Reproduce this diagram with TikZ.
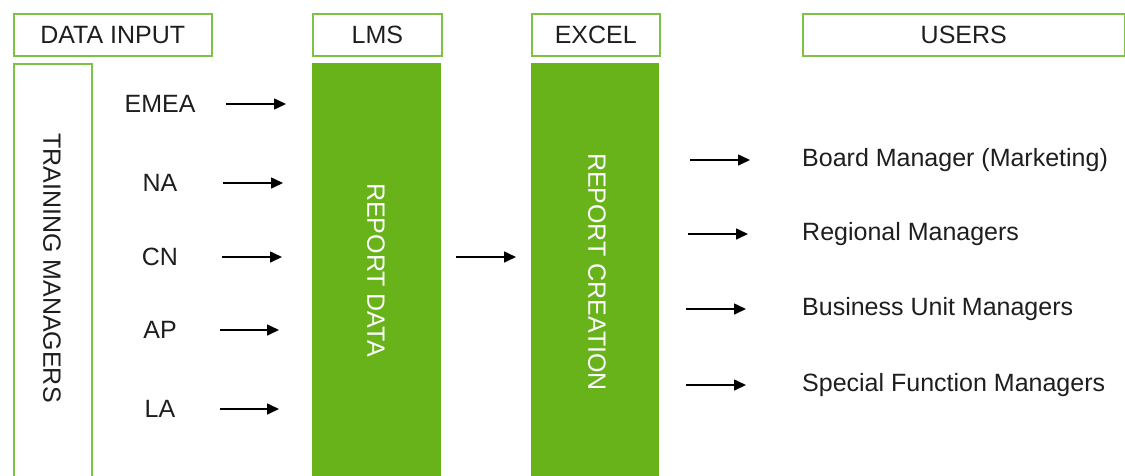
\documentclass[tikz,border=0pt]{standalone}
\usepackage{fontspec}
\setmainfont{Liberation Sans}
\usetikzlibrary{arrows.meta}
\definecolor{leaf}{HTML}{68B21A}
\definecolor{rim}{HTML}{7DC145}
\definecolor{ink}{HTML}{1E1E1E}
\begin{document}
\begin{tikzpicture}[x=1pt,y=-1pt,
  every node/.style={font=\fontsize{25}{28}\selectfont, text=ink, inner sep=0pt},
  headbox/.style={draw=rim, line width=1.6pt, anchor=north west, minimum height=42pt},
  sidebox/.style={draw=rim, line width=1.6pt, anchor=north west},
  stage/.style={fill=leaf, anchor=north west},
  vlabel/.style={rotate=-90, text=#1},
  flow/.style={line width=1.6pt, draw=black, -{Triangle[length=12pt,width=11pt]}}]
\useasboundingbox (0,0) rectangle (1125,475);

% column headers
\node[headbox, minimum width=198pt] (hin)   at (13,13)  {DATA INPUT};
\node[headbox, minimum width=129pt] (hlms)  at (312,13) {LMS};
\node[headbox, minimum width=128pt] (hxl)   at (531,13) {EXCEL};
\node[headbox, minimum width=322pt] (husr)  at (802,13) {USERS};

% side panel and the two process stages
\node[sidebox, minimum width=78pt, minimum height=420pt] (train) at (13,63) {};
\node[stage, minimum width=129pt, minimum height=420pt] (lms) at (312,63) {};
\node[stage, minimum width=128pt, minimum height=420pt] (xl) at (531,63) {};

\node[vlabel=ink]   (tm) at (52,268)  {TRAINING MANAGERS};
\node[vlabel=white] (rd) at (376,270) {REPORT DATA};
\node[vlabel=white] (rc) at (597,272) {REPORT CREATION};

% regions feeding the LMS
\foreach \name/\txt/\y/\xa/\xb in {emea/EMEA/104/226/286, na/NA/183/223/283,
    cn/CN/257/222/282, ap/AP/330/220/279, la/LA/409/220/279} {
  \node (\name) at (160,\y) {\txt};
  \coordinate (\name-s) at (\xa,\y);
  \coordinate (\name-e) at (\xb,\y);
  \draw[flow] (\name-s) -- (\name-e);
}

% LMS to Excel
\coordinate (mid-s) at (456,257);
\coordinate (mid-e) at (516,257);
\draw[flow] (mid-s) -- (mid-e);

% report recipients
\foreach \name/\txt/\y/\xa/\xb in {bm/Board Manager (Marketing)/160/690/750,
    rm/Regional Managers/234/688/748, bu/Business Unit Managers/309/686/746,
    sf/Special Function Managers/385/686/746} {
  \node[anchor=west] (\name) at (802,\y) {\txt};
  \coordinate (\name-s) at (\xa,\y);
  \coordinate (\name-e) at (\xb,\y);
  \draw[flow] (\name-s) -- (\name-e);
}
\end{tikzpicture}
\end{document}
